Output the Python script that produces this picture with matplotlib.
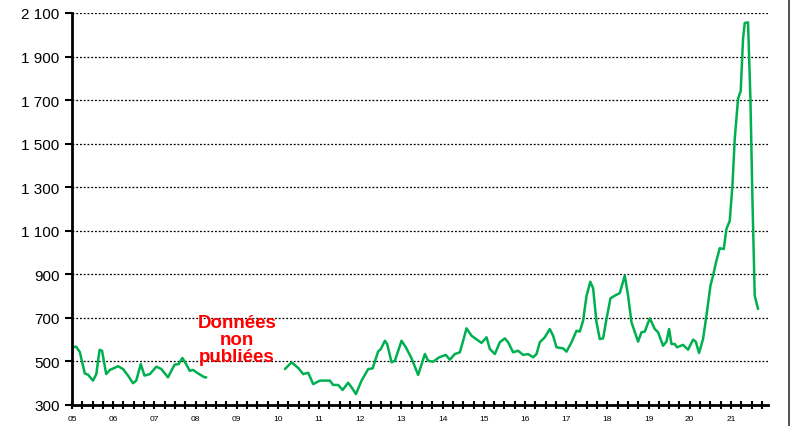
import numpy as np
import matplotlib
matplotlib.use("Agg")
import matplotlib.pyplot as plt
from matplotlib.ticker import FixedLocator, FuncFormatter, MultipleLocator
from matplotlib.lines import Line2D

plt.rcParams['font.family'] = ['Liberation Sans', 'DejaVu Sans']

# decimal-year positions and values (segment 1: 2005-2008)
t1 = [2005.00, 2005.10, 2005.19, 2005.31, 2005.39, 2005.51, 2005.59, 2005.67, 2005.73,
      2005.83, 2005.92, 2006.12, 2006.24, 2006.36, 2006.48, 2006.56, 2006.67, 2006.76,
      2006.89, 2007.05, 2007.17, 2007.33, 2007.49, 2007.59, 2007.68, 2007.77, 2007.86,
      2007.94, 2008.06, 2008.22, 2008.26]
v1 = [565, 568, 543, 445, 439, 412, 442, 553, 549,
      442, 461, 478, 465, 435, 400, 412, 488, 435,
      442, 476, 465, 427, 485, 488, 516, 488, 457,
      461, 445, 427, 427]

# segment 2: 2010-2021 (pixel readings converted)
x2 = [285, 291.7, 298.3, 303.3, 308.3, 313.3, 320, 330, 333.3, 338.3, 342.7, 348.3,
      351.7, 356, 361.7, 368.3, 372.7, 378.3, 381, 385, 387.3, 391.7, 395, 401.7, 406,
      411.7, 418.3, 425, 428.3, 433.3, 439.3, 446, 450, 455, 460, 463.3, 466.7, 471.7,
      481.7, 486.7, 490, 495, 500, 505, 508.3, 513.3, 518.3, 523.3, 528.3, 533.3, 536.7,
      540, 545, 550, 553.3, 556.7, 563.3, 566.7, 571.7, 576.7, 580, 583.3, 586.7, 590.5,
      593.3, 596.7, 600, 603.3, 606.7, 610.7, 615, 620, 625, 628.3, 631.7, 638.3, 641.7,
      645, 650, 655, 658.3, 663.3, 666.7, 669.3, 671.7, 675, 677.3, 683.3, 688.3, 693.3,
      696, 699.3, 703.3, 706.7, 710.7, 713.3, 716.7, 720, 724, 726.7, 730, 732.7, 735,
      738.3, 741, 743.3, 745, 748.3, 750.7, 752.7, 755, 758.3]
v2 = [465, 496, 470, 442, 448, 396, 412, 412, 392, 392, 369, 402,
      381, 350, 412, 465, 468, 546, 557, 595, 580, 496, 503, 595, 565,
      514, 438, 534, 503, 499, 519, 530, 508, 534, 542, 595, 652, 618,
      585, 611, 557, 534, 588, 606, 588, 542, 549, 530, 534, 519, 534,
      588, 611, 649, 618, 565, 560, 545, 588, 641, 637, 687, 800, 866,
      837, 680, 603, 606, 695, 790, 802, 814, 894, 802, 680, 591, 634,
      637, 698, 649, 634, 572, 591, 649, 580, 580, 565, 576, 554, 600,
      591, 539, 603, 710, 848, 894, 963, 1020, 1016, 1108, 1146, 1307, 1521,
      1705, 1743, 1981, 2054, 2057, 1705, 1246, 802, 741]
t2 = [2005 + (x - 72) / 41.2 for x in x2]

t = np.array(t1 + [np.nan] + t2)
v = np.array(v1 + [np.nan] + v2, dtype=float)

year_labels = ['05', '06', '07', '08', '09', '10', '11', '12', '13', '14', '15', '16',
               '17', '18', '19', '20', '21']
year_pos = list(range(2005, 2022))
y_ticks = [300, 500, 700, 900, 1100, 1300, 1500, 1700, 1900, 2100]

fig = plt.figure(figsize=(7.92, 4.27), dpi=100)
ax = fig.add_axes([72/792, 1-406/427, (768-72)/792, (406-14)/427])

ax.plot(t, v, color='#00B050', lw=1.8, solid_joinstyle='round', solid_capstyle='round')

ax.set_xlim(2005.0, 2021.9)
ax.set_ylim(300, 2100)

for yv in y_ticks[1:]:
    ax.axhline(yv, color='black', lw=0.9, ls=(0, (1.5, 1.5)), zorder=0)

ax.yaxis.set_major_locator(FixedLocator(y_ticks))
ax.yaxis.set_major_formatter(FuncFormatter(lambda x, p: f"{int(x):,}".replace(',', ' ')))
ax.tick_params(axis='y', direction='out', length=5, width=1.5, labelsize=11, pad=4)

ax.xaxis.set_major_locator(FixedLocator(year_pos))
ax.set_xticklabels(year_labels)
ax.xaxis.set_minor_locator(MultipleLocator(0.25))
ax.tick_params(axis='x', which='both', direction='inout', length=6, width=1.5, labelsize=6, pad=4)

for s in ['top', 'right']:
    ax.spines[s].set_visible(False)
for s in ['left', 'bottom']:
    ax.spines[s].set_linewidth(2)

ax.text(2009.0, 603, "Données\nnon\npubliées", color='#FF0000', fontweight='bold',
        fontsize=13.5, ha='center', va='center', linespacing=1.0)

fig.add_artist(Line2D([789/792, 789/792], [0, 1], color='#333333', lw=1.2,
                      transform=fig.transFigure))

fig.savefig('out.png', dpi=100)
